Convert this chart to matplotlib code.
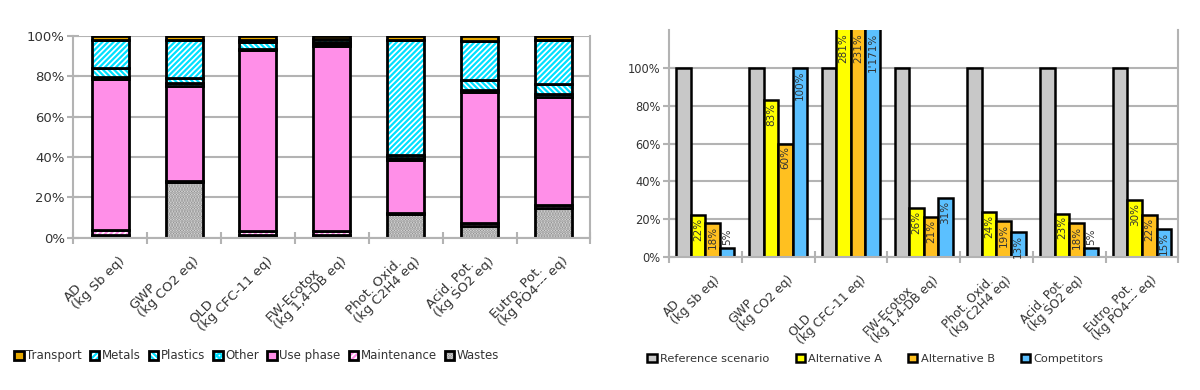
import matplotlib
matplotlib.use("Agg")
import matplotlib.pyplot as plt
import numpy as np
from matplotlib.legend_handler import HandlerTuple

## data
categories = ["AD\n(kg Sb eq)", "GWP\n(kg CO2 eq)", "OLD\n(kg CFC-11 eq)",
              "FW-Ecotox\n(kg 1,4-DB eq)", "Phot. Oxid.\n(kg C2H4 eq)",
              "Acid. Pot.\n(kg SO2 eq)", "Eutro. Pot.\n(kg PO4--- eq)"]

# left chart: contribution shares (%), bottom to top
wastes = [1.5, 27.5, 1.5, 1.5, 12.0, 6.0, 15.0]
maintenance = [2.5, 0.5, 2.0, 2.0, 0.5, 1.5, 1.5]
use_phase = [74.5, 47.0, 89.5, 91.5, 26.0, 64.5, 53.0]
other = [1.0, 1.5, 0.5, 1.0, 1.0, 1.0, 1.5]
plastics = [4.5, 2.5, 3.5, 1.0, 1.5, 5.0, 5.0]
metals = [14.0, 19.0, 1.0, 1.5, 57.0, 19.5, 22.0]
transport = [2.0, 2.0, 2.0, 1.5, 2.0, 2.5, 2.0]

# right chart: relative impacts (%)
reference = [100, 100, 100, 100, 100, 100, 100]
alt_a = [22, 83, 281, 26, 24, 23, 30]
alt_b = [18, 60, 231, 21, 19, 18, 22]
competitors = [5, 100, 1171, 31, 13, 5, 15]

plt.rcParams["hatch.linewidth"] = 1.6
GRID = "#b3b3b3"
TXT = "#333333"

fig = plt.figure(figsize=(12, 3.9), dpi=100)
ax1 = fig.add_axes([0.061, 0.390, 0.431, 0.518])
ax2 = fig.add_axes([0.5575, 0.341, 0.4245, 0.582])

x = np.arange(len(categories))


def style_axis(ax, ymax, yticks, xfs, yfs):
    ax.set_xlim(-0.5, len(categories) - 0.5)
    ax.set_ylim(0, ymax)
    ax.set_yticks(yticks)
    ax.set_yticklabels([f"{t}%" for t in yticks], fontsize=yfs, color=TXT)
    ax.set_xticks(x)
    ax.set_xticklabels(categories, rotation=45, ha="right", rotation_mode="anchor",
                       multialignment="left", linespacing=0.85, fontsize=xfs, color=TXT)
    ax.set_xticks(np.arange(len(categories) + 1) - 0.5, minor=True)
    ax.tick_params(axis="x", which="major", length=0, pad=6)
    ax.tick_params(axis="x", which="minor", length=8, width=1.5, color=GRID, direction="inout")
    ax.tick_params(axis="y", length=8, width=1.5, color=GRID, direction="inout", pad=2)
    ax.grid(axis="y", color=GRID, linewidth=1.5)
    ax.set_axisbelow(True)
    ax.spines["top"].set_visible(False)
    for s in ["left", "right", "bottom"]:
        ax.spines[s].set_color(GRID)
        ax.spines[s].set_linewidth(1.5)


## left: stacked shares
layers = [
    ("Wastes", wastes, "#e8e8e8", "#8a8a8a", "......"),
    ("Maintenance", maintenance, "white", "#ff8fe8", "//////"),
    ("Use phase", use_phase, "#ff8fe8", None, None),
    ("Other", other, "white", "#00e0ff", "xxxxxx"),
    ("Plastics", plastics, "white", "#00e0ff", "\\\\\\\\\\\\"),
    ("Metals", metals, "white", "#00e0ff", "//////"),
    ("Transport", transport, "#e6a800", None, None),
]
bottom = np.zeros(len(categories))
handles = {}
for name, vals, fc, hc, hatch in layers:
    fill = ax1.bar(x, vals, 0.5, bottom=bottom, color=fc, edgecolor=hc if hc else fc,
                   hatch=hatch, linewidth=0)
    edge = ax1.bar(x, vals, 0.5, bottom=bottom, facecolor="none", edgecolor="black",
                   linewidth=2)
    handles[name] = (fill, edge)
    bottom += np.array(vals)

style_axis(ax1, 100, [0, 20, 40, 60, 80, 100], 9.5, 9.5)

order = ["Transport", "Metals", "Plastics", "Other", "Use phase", "Maintenance", "Wastes"]
fig.legend([handles[n] for n in order], order, loc="center left",
           bbox_to_anchor=(0.003, 0.088), ncol=7, frameon=False, fontsize=8.5,
           handlelength=0.8, handleheight=0.8, handletextpad=0.2, columnspacing=0.7,
           handler_map={tuple: HandlerTuple(ndivide=1)}, labelcolor=TXT)

## right: grouped comparison
series = [("Reference scenario", reference, "#c8c8c8"),
          ("Alternative A", alt_a, "#ffff00"),
          ("Alternative B", alt_b, "#ffc020"),
          ("Competitors", competitors, "#5bc0ff")]
w = 0.2
ymax = 120
for i, (name, vals, col) in enumerate(series):
    pos = x + (i - 1.5) * w
    ax2.bar(pos, vals, w, color=col, edgecolor="black", linewidth=1.8, label=name)
    if i == 0:
        continue
    for p, v in zip(pos, vals):
        lab = f"{v:,}%".replace(",", "'")
        if v < 10:
            ax2.text(p, v + 1.5, lab, rotation=90, ha="center", va="bottom",
                     fontsize=7.5, color=TXT)
        else:
            ax2.text(p, min(v, ymax) - 1.5, lab, rotation=90, ha="center", va="top",
                     fontsize=7.5, color=TXT)

style_axis(ax2, ymax, [0, 20, 40, 60, 80, 100], 8.8, 8.3)

fig.legend(loc="center left", bbox_to_anchor=(0.531, 0.080), ncol=4, frameon=False,
           fontsize=8.2, handlelength=0.8, handleheight=0.8, handletextpad=0.3,
           columnspacing=2.3, labelcolor=TXT)

fig.savefig("out.png", dpi=100)
